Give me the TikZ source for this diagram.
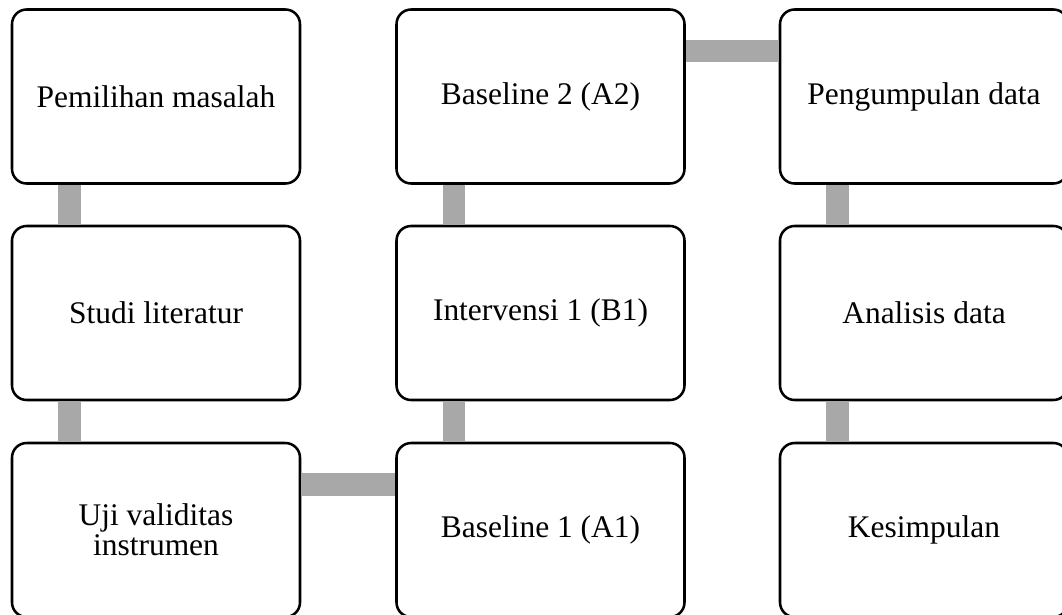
\documentclass[tikz,border=0pt]{standalone}
\usepackage{fontspec}
\setmainfont{Liberation Serif}
\definecolor{bargray}{RGB}{168,168,168}
\begin{document}
\begin{tikzpicture}[x=0.75pt,y=-0.75pt]
      \useasboundingbox (0,0) rectangle (1062,614);
      \begin{scope}[every node/.style={draw=black,line width=1.9pt,rounded corners=11pt,
          minimum width=216pt,minimum height=130.5pt,align=center,
          font=\fontsize{23.6}{22.5}\selectfont}]
        \node (a) at (156,96.5) {Pemilihan masalah};
        \node (b) at (156,313) {Studi literatur};
        \node (c) at (156,530) {Uji validitas\\instrumen};
        \node (d) at (540.5,530) {Baseline 1 (A1)};
        \node (e) at (540.5,313) {Intervensi 1 (B1)};
        \node (f) at (540.5,96.5) {Baseline 2 (A2)};
        \node (g) at (924,96.5) {Pengumpulan data};
        \node (h) at (924,313) {Analisis data};
        \node (i) at (924,530) {Kesimpulan};
      \end{scope}
      \begin{scope}[every edge/.style={draw=bargray,line width=17pt}]
        \path ([xshift=44pt]a.south west) edge ([xshift=44pt]b.north west);
        \path ([xshift=44pt]b.south west) edge ([xshift=44pt]c.north west);
        \path ([yshift=-32pt]c.north east) edge ([yshift=-32pt]d.north west);
        \path ([xshift=44pt]d.north west) edge ([xshift=44pt]e.south west);
        \path ([xshift=44pt]e.north west) edge ([xshift=44pt]f.south west);
        \path ([yshift=-32pt]f.north east) edge ([yshift=-32pt]g.north west);
        \path ([xshift=44pt]g.south west) edge ([xshift=44pt]h.north west);
        \path ([xshift=44pt]h.south west) edge ([xshift=44pt]i.north west);
      \end{scope}
    \end{tikzpicture}
\end{document}
